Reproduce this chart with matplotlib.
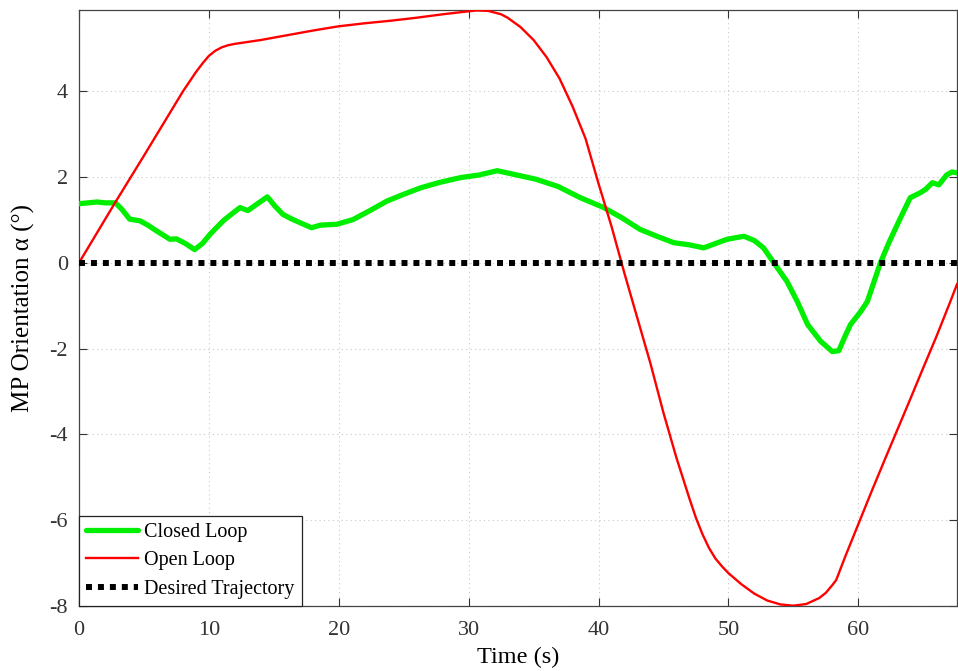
import numpy as np
import matplotlib
matplotlib.use("Agg")
import matplotlib.pyplot as plt

# Open loop response
t_open = [0, 2.77, 5, 8, 9, 9.5, 10, 10.5, 11, 11.5, 12, 14, 16, 18, 20, 22, 24, 26,
          28, 30, 30.6, 31.5, 32.5, 33, 34, 35, 36, 37, 38, 39, 40, 41, 42, 43, 44,
          45, 46, 47, 47.5, 48, 48.5, 49, 49.5, 50, 51, 52, 53, 54, 55, 56, 57, 57.5,
          58, 58.3, 59, 60, 61, 62, 63, 64, 65, 66, 67, 67.6]
a_open = [0, 1.4, 2.5, 4.0, 4.45, 4.65, 4.83, 4.95, 5.03, 5.08, 5.11, 5.2, 5.31,
          5.42, 5.52, 5.59, 5.65, 5.72, 5.8, 5.87, 5.89, 5.88, 5.8, 5.72, 5.5, 5.2,
          4.8, 4.3, 3.65, 2.9, 1.85, 0.85, -0.25, -1.3, -2.35, -3.5, -4.55, -5.5,
          -5.95, -6.33, -6.65, -6.9, -7.08, -7.24, -7.5, -7.72, -7.88, -7.97, -8.0,
          -7.96, -7.82, -7.7, -7.52, -7.4, -6.85, -6.1, -5.35, -4.62, -3.9, -3.18,
          -2.45, -1.73, -0.97, -0.5]

# Closed loop response
t_closed = [0, 0.7, 1.4, 2.0, 2.8, 3.3, 3.9, 4.7, 5.3, 6.0, 7.0, 7.5, 8.2, 8.9, 9.5,
            10.1, 11.1, 11.8, 12.4, 13.0, 13.7, 14.5, 15.1, 15.7, 16.4, 17.0, 17.9,
            18.6, 19.85, 21.1, 22.4, 23.7, 25.0, 26.3, 27.8, 29.4, 30.8, 32.2, 33.7,
            35.2, 36.9, 38.6, 40.4, 41.8, 43.2, 44.5, 45.8, 47.0, 48.1, 49.0, 49.9,
            51.2, 52.0, 52.7, 53.5, 54.5, 55.3, 56.1, 57.1, 58.0, 58.5, 59.0, 59.4,
            60.2, 60.7, 61.7, 62.4, 63.25, 64.0, 64.8, 65.2, 65.7, 66.2, 66.8, 67.2, 67.6]
a_closed = [1.38, 1.40, 1.42, 1.40, 1.40, 1.25, 1.02, 0.98, 0.88, 0.74, 0.55, 0.56,
            0.45, 0.31, 0.45, 0.67, 0.98, 1.15, 1.29, 1.22, 1.37, 1.54, 1.32, 1.13,
            1.02, 0.94, 0.82, 0.88, 0.90, 1.01, 1.22, 1.44, 1.60, 1.75, 1.88, 1.99,
            2.05, 2.15, 2.05, 1.95, 1.78, 1.52, 1.29, 1.05, 0.78, 0.62, 0.47, 0.42,
            0.35, 0.45, 0.55, 0.62, 0.52, 0.35, 0.0, -0.43, -0.9, -1.44, -1.83, -2.07,
            -2.05, -1.7, -1.44, -1.13, -0.9, 0.0, 0.5, 1.05, 1.52, 1.64, 1.72, 1.87,
            1.82, 2.05, 2.12, 2.1]

t_desired = [0, 67.6]
a_desired = [0, 0]

plt.rcParams['font.family'] = ['Liberation Serif', 'DejaVu Serif']
plt.rcParams['axes.unicode_minus'] = False

fig = plt.figure(figsize=(9.58, 6.71), dpi=100)
ax = fig.add_axes([79 / 958, 1 - 605.7 / 671, 878 / 958, 595.7 / 671])

ax.plot(t_closed, a_closed, color='#00ee00', lw=3.8, label='Closed Loop',
        solid_joinstyle='round', solid_capstyle='round', zorder=3)
ax.plot(t_open, a_open, color='#ff0000', lw=1.7, label='Open Loop', zorder=4)
ax.plot(t_desired, a_desired, color='black', lw=4.3, dashes=(1, 1),
        dash_capstyle='butt', label='Desired Trajectory', zorder=5)

ax.set_xlim(0, 67.6)
ax.set_ylim(-8, 5.9)
ax.set_xticks([0, 10, 20, 30, 40, 50, 60])
ax.set_yticks([-8, -6, -4, -2, 0, 2, 4])
ax.grid(True, linestyle=(0, (1, 3)), color='#c8c8c8', lw=0.8)
ax.tick_params(direction='in', top=True, right=True, length=6, width=0.8,
               labelsize=16, colors='#333333', pad=8)
ax.tick_params(axis='x', pad=11)
for s in ax.spines.values():
    s.set_color('#444444')
    s.set_linewidth(0.9)

ax.set_xlabel('Time (s)', fontsize=17.5, labelpad=5)
ax.set_ylabel('MP Orientation α (°)', fontsize=18, labelpad=10)

leg = ax.legend(loc='lower left', borderaxespad=0, fancybox=False, framealpha=1,
                edgecolor='#222222', fontsize=14.5, handlelength=2.6,
                handletextpad=0.3, labelspacing=0.45, borderpad=0.35)
leg.get_frame().set_linewidth(0.9)

fig.savefig('out.png', dpi=100)
